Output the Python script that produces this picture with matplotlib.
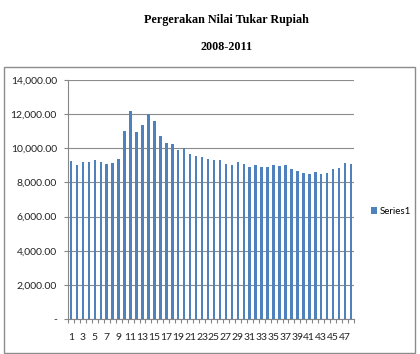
import matplotlib.pyplot as plt
from matplotlib.patches import Rectangle
from matplotlib.ticker import FuncFormatter
import numpy as np

# monthly rupiah rate, 48 months (2008-2011)
months = np.arange(1, 49)
rate = [9263, 9012, 9187, 9205, 9304, 9187, 9088, 9129, 9363, 11000,
        12170, 10950, 11350, 11994, 11600, 10708, 10316, 10222, 9906, 10046,
        9673, 9538, 9462, 9363, 9343, 9304, 9088, 8994, 9170, 9053,
        8912, 9012, 8895, 8895, 8994, 8960, 9030, 8778, 8680, 8544,
        8503, 8585, 8485, 8544, 8778, 8819, 9146, 9053]
y_ticks = [0, 2000, 4000, 6000, 8000, 10000, 12000, 14000]
x_labels = [str(m) if m % 2 == 1 else '' for m in months]

fig = plt.figure(figsize=(4.2, 3.54), dpi=100)

fig.text(0.54, 0.943, 'Pergerakan Nilai Tukar Rupiah', ha='center', va='center',
         family='Liberation Serif', weight='bold', fontsize=8.7)
fig.text(0.54, 0.867, '2008-2011', ha='center', va='center',
         family='Liberation Serif', weight='bold', fontsize=8.7)

# chart area border
fig.patches.append(Rectangle((4/420, 1/354), 411/420, 286/354, transform=fig.transFigure,
                             fill=False, edgecolor='#8c8c8c', lw=1))

ax = fig.add_axes([68/420, 1 - 319/354, 286/420, 239/354])
ax.bar(months, rate, width=0.42, color='#4f81bd', label='Series1', zorder=3)

ax.set_xlim(0.5, 48.5)
ax.set_ylim(0, 14000)
ax.set_yticks(y_ticks)
ax.yaxis.set_major_formatter(FuncFormatter(lambda v, p: '-' if v == 0 else f'{v:,.2f}'))
ax.set_xticks(months)
ax.set_xticklabels(x_labels)
ax.set_xticks(np.arange(0.5, 49, 1), minor=True)
ax.tick_params(axis='x', which='major', length=0, pad=10, labelsize=7.5, labelcolor='#222222')
ax.tick_params(axis='x', which='minor', length=3, color='#868686', width=0.8)
ax.tick_params(axis='y', length=3, color='#868686', width=0.8, pad=5, labelsize=7.5, labelcolor='#222222')
for lbl in ax.get_xticklabels() + ax.get_yticklabels():
    lbl.set_family('Lato')

ax.grid(axis='y', color='#8c8c8c', lw=0.8, zorder=0)
for s in ['top', 'right']:
    ax.spines[s].set_visible(False)
for s in ['left', 'bottom']:
    ax.spines[s].set_color('#868686')
    ax.spines[s].set_linewidth(0.8)

leg = ax.legend(loc='center left', bbox_to_anchor=(1.03, 0.45), frameon=False,
                handlelength=0.6, handleheight=0.6, handletextpad=0.3,
                prop={'family': 'Lato', 'size': 7})

fig.savefig('out.png', dpi=100)
